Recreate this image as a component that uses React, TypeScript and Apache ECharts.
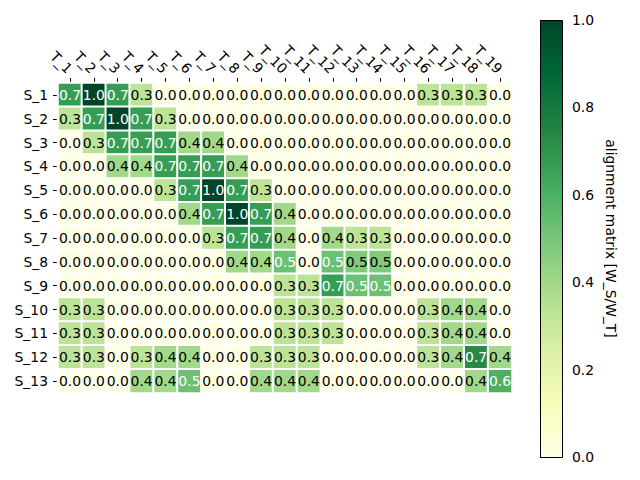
import React, { useEffect, useRef } from "react";
import * as echarts from "echarts";

const tLabels = ["T_1","T_2","T_3","T_4","T_5","T_6","T_7","T_8","T_9","T_10","T_11","T_12","T_13","T_14","T_15","T_16","T_17","T_18","T_19"];
const sLabels = ["S_1","S_2","S_3","S_4","S_5","S_6","S_7","S_8","S_9","S_10","S_11","S_12","S_13"];

const S_1 = [0.67,1.0,0.67,0.33,0,0,0,0,0,0,0,0,0,0,0,0.33,0.33,0.33,0];
const S_2 = [0.33,0.67,1.0,0.67,0.33,0,0,0,0,0,0,0,0,0,0,0,0,0,0];
const S_3 = [0,0.33,0.67,0.67,0.67,0.4,0.4,0,0,0,0,0,0,0,0,0,0,0,0];
const S_4 = [0,0,0.4,0.4,0.67,0.67,0.67,0.4,0,0,0,0,0,0,0,0,0,0,0];
const S_5 = [0,0,0,0,0.33,0.67,1.0,0.67,0.33,0,0,0,0,0,0,0,0,0,0];
const S_6 = [0,0,0,0,0,0.4,0.67,1.0,0.67,0.4,0,0,0,0,0,0,0,0,0];
const S_7 = [0,0,0,0,0,0,0.33,0.67,0.67,0.4,0,0.4,0.33,0.33,0,0,0,0,0];
const S_8 = [0,0,0,0,0,0,0,0.4,0.4,0.53,0,0.53,0.48,0.48,0,0,0,0,0];
const S_9 = [0,0,0,0,0,0,0,0,0,0.33,0.33,0.67,0.53,0.53,0,0,0,0,0];
const S_10 = [0.33,0.33,0,0,0,0,0,0,0,0.33,0.33,0.33,0,0,0,0.33,0.4,0.4,0];
const S_11 = [0.33,0.33,0,0,0,0,0,0,0,0.33,0.33,0.33,0,0,0,0.33,0.4,0.4,0];
const S_12 = [0.33,0.33,0,0.33,0.4,0.4,0,0,0.33,0.33,0.33,0,0,0,0,0.33,0.4,0.73,0.4];
const S_13 = [0,0,0,0.4,0.4,0.53,0,0,0.4,0.4,0.4,0,0,0,0,0,0,0.4,0.6];
const matrix = [S_1,S_2,S_3,S_4,S_5,S_6,S_7,S_8,S_9,S_10,S_11,S_12,S_13];

const YlGn = ["#ffffe5","#f7fcb9","#d9f0a3","#addd8e","#78c679","#41ab5d","#238443","#006837","#004529"];
const FONT = "DejaVu Sans";
const FS = 13.9;

export default function App() {
  const ref = useRef<HTMLDivElement>(null);
  useEffect(() => {
    if (!ref.current) return;
    const chart = echarts.init(ref.current, null, { renderer: "svg" });
    const data: any[] = [];
    matrix.forEach((row, y) => {
      row.forEach((v, x) => {
        data.push({ value: [x, y, v], label: { color: v > 0.5 ? "#ffffff" : "#000000" } });
      });
    });
    const gradient = new echarts.graphic.LinearGradient(0, 1, 0, 0,
      YlGn.map((c, i) => ({ offset: i / (YlGn.length - 1), color: c })));
    chart.setOption({
      animation: false,
      backgroundColor: "#ffffff",
      textStyle: { fontFamily: FONT },
      grid: [
        { left: 58, top: 83, width: 454, height: 310 },
        { left: 540, top: 20, width: 22, height: 437 },
      ],
      xAxis: [
        {
          type: "category", data: tLabels, position: "top", gridIndex: 0,
          axisLine: { show: false },
          axisTick: { show: true, alignWithLabel: true, length: 5, lineStyle: { color: "#000" } },
          axisLabel: { rotate: 45, fontSize: FS, color: "#000", margin: 12, interval: 0, fontFamily: FONT },
          splitLine: { show: false },
        },
        { type: "value", gridIndex: 1, show: false, min: 0, max: 1 },
      ],
      yAxis: [
        {
          type: "category", data: sLabels, inverse: true, gridIndex: 0,
          axisLine: { show: false },
          axisTick: { show: true, alignWithLabel: true, length: 5, lineStyle: { color: "#000" } },
          axisLabel: { fontSize: FS, color: "#000", margin: 10, interval: 0, fontFamily: FONT },
          splitLine: { show: false },
        },
        {
          type: "value", gridIndex: 1, position: "right", min: 0, max: 1, interval: 0.2,
          axisLine: { show: false },
          axisTick: { show: true, length: 5, lineStyle: { color: "#000" } },
          axisLabel: { formatter: (v: number) => v.toFixed(1), color: "#000", fontSize: FS, margin: 10, fontFamily: FONT },
          splitLine: { show: false },
          name: "alignment matrix [W_S/W_T]",
          nameLocation: "middle", nameRotate: -90, nameGap: 42,
          nameTextStyle: { fontSize: FS, color: "#000", fontFamily: FONT },
        },
      ],
      visualMap: {
        show: false, type: "continuous", min: 0, max: 1, dimension: 2, seriesIndex: 0,
        inRange: { color: YlGn },
      },
      graphic: [
        {
          type: "rect", z: 10,
          shape: { x: 540.5, y: 20.5, width: 22, height: 437 },
          style: { fill: gradient, stroke: "#000", lineWidth: 1 },
        },
      ],
      series: [
        {
          type: "heatmap", xAxisIndex: 0, yAxisIndex: 0, data,
          itemStyle: { borderColor: "#ffffff", borderWidth: 2 },
          label: { show: true, fontSize: FS, fontFamily: FONT, formatter: (p: any) => Number(p.value[2]).toFixed(1) },
          emphasis: { disabled: true },
        },
      ],
    });
    return () => chart.dispose();
  }, []);
  return <div ref={ref} style={{ position: "fixed", left: 0, top: 0, width: 640, height: 480 }} />;
}
